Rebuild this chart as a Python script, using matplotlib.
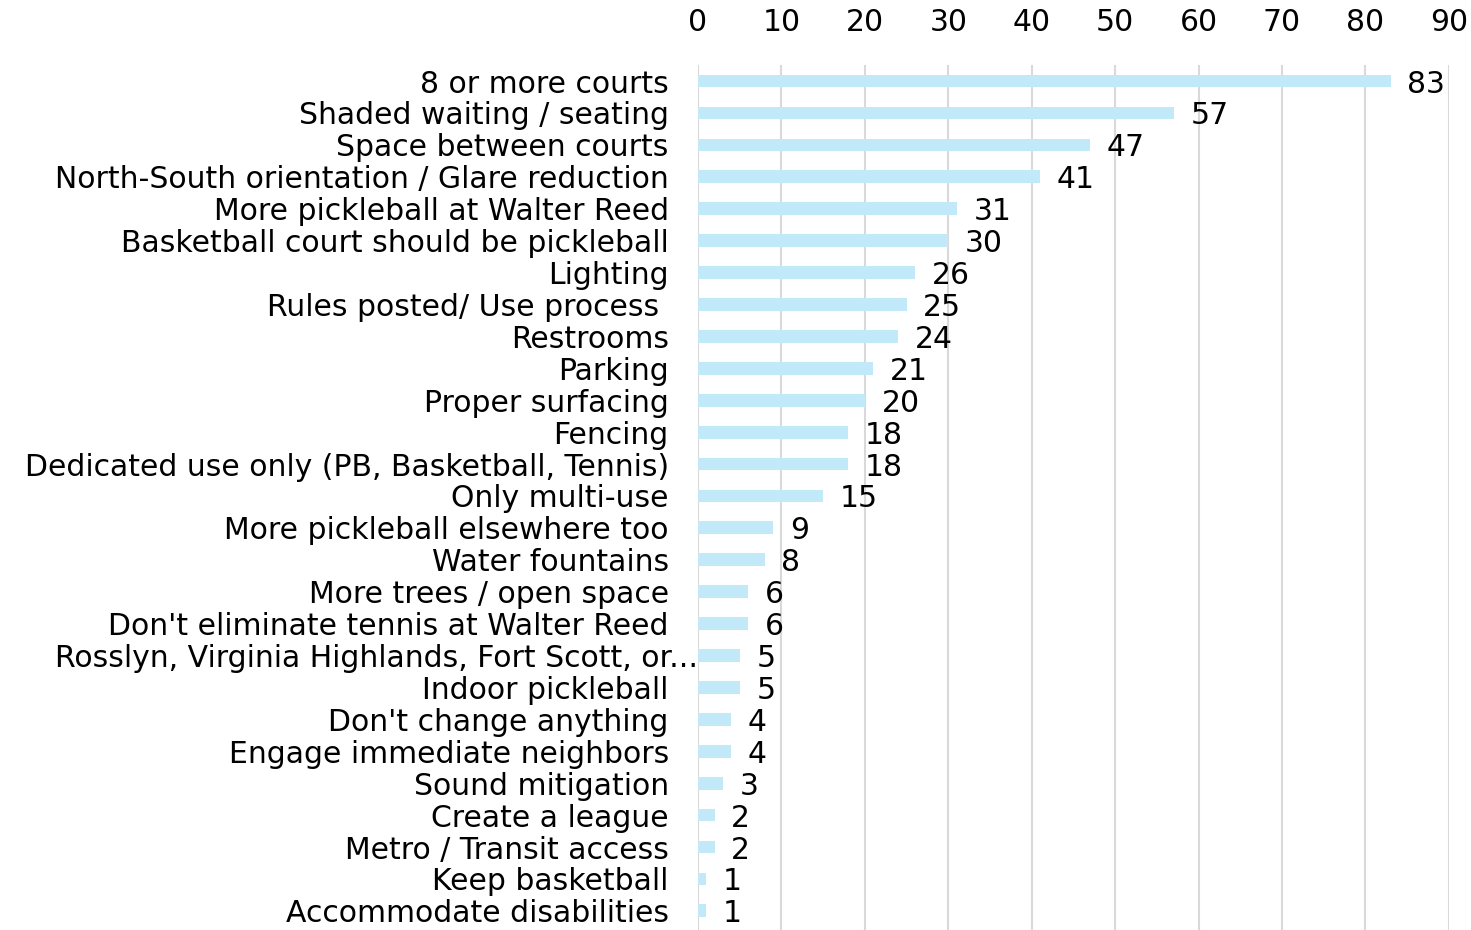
import numpy as np
import matplotlib.pyplot as plt
from matplotlib.transforms import ScaledTranslation

categories = [
    "8 or more courts",
    "Shaded waiting / seating",
    "Space between courts",
    "North-South orientation / Glare reduction",
    "More pickleball at Walter Reed",
    "Basketball court should be pickleball",
    "Lighting",
    "Rules posted/ Use process ",
    "Restrooms",
    "Parking",
    "Proper surfacing",
    "Fencing",
    "Dedicated use only (PB, Basketball, Tennis)",
    "Only multi-use",
    "More pickleball elsewhere too",
    "Water fountains",
    "More trees / open space",
    "Don't eliminate tennis at Walter Reed",
    "Rosslyn, Virginia Highlands, Fort Scott, or...",
    "Indoor pickleball",
    "Don't change anything",
    "Engage immediate neighbors",
    "Sound mitigation",
    "Create a league",
    "Metro / Transit access",
    "Keep basketball",
    "Accommodate disabilities",
]
counts = [83, 57, 47, 41, 31, 30, 26, 25, 24, 21, 20, 18, 18, 15,
          9, 8, 6, 6, 5, 5, 4, 4, 3, 2, 2, 1, 1]
x_ticks = list(range(0, 91, 10))

plt.rcParams['font.family'] = ['DejaVu Sans']
FS = 21.5

fig = plt.figure(figsize=(14.71, 9.30), dpi=100)
ax = fig.add_axes([0.4745, 0.0, 0.5105, 0.930])

y = np.arange(len(categories))
bars = ax.barh(y, counts, height=0.4, color='#c1e9f9', zorder=2)
ax.bar_label(bars, labels=[str(c) for c in counts], padding=12,
             fontsize=FS, color='black')
for t in ax.texts:
    t.set_va('center_baseline')

ax.set_ylim(len(categories) - 0.4, -0.5)
ax.set_xlim(0, 90)
ax.set_yticks(y)
ax.set_yticklabels(categories, fontsize=FS)
ax.set_xticks(x_ticks)
ax.xaxis.tick_top()
ax.tick_params(axis='x', labelsize=FS, length=0, pad=20)
ax.tick_params(axis='y', length=0, pad=21)

# the long label runs past the others up to the axis line
for lbl in ax.get_yticklabels():
    if lbl.get_text().endswith('or...'):
        lbl.set_transform(lbl.get_transform() + ScaledTranslation(0.29, 0, fig.dpi_scale_trans))

ax.grid(axis='x', color='#d9d9d9', linewidth=1.5, zorder=0)
ax.set_axisbelow(True)
for s in ax.spines.values():
    s.set_visible(False)

fig.savefig('out.png', dpi=100)
